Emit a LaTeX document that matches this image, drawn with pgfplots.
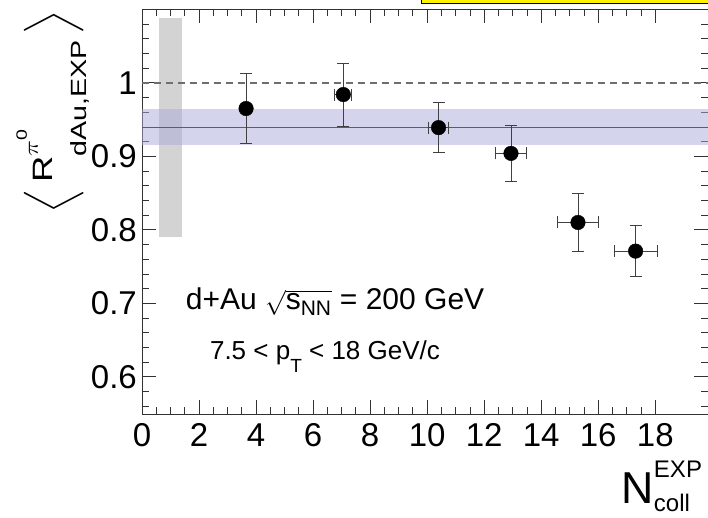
\documentclass[border=0pt]{standalone}
\usepackage{fontspec}
\setmainfont{Liberation Sans}
\usepackage{amsmath}
\usepackage{graphicx}
\usepackage{pgfplots}
\pgfplotsset{compat=1.18}
\usetikzlibrary{calc}
\definecolor{bandblue}{RGB}{170,170,220}
\definecolor{sysgray}{RGB}{211,211,211}
\definecolor{fitblue}{RGB}{80,80,200}
\definecolor{framegray}{RGB}{50,50,50}
\definecolor{refgray}{RGB}{110,110,110}

% N_coll, <R_dAu>, stat err (x and y)
\pgfplotstableread{
x      y      ex    ey
3.65   0.965  0.0   0.048
7.06   0.984  0.30  0.043
10.40  0.939  0.34  0.034
12.94  0.904  0.53  0.038
15.29  0.810  0.73  0.040
17.31  0.771  0.76  0.035
}\rdau

\begin{document}
\begin{tikzpicture}
\begin{axis}[
  name=ax,
  scale only axis,
  width=566pt, height=405pt,
  xmin=0, xmax=19.85,
  ymin=0.549, ymax=1.1,
  xtick={0,2,...,18},
  minor x tick num=3,
  ytick={0.6,0.7,0.8,0.9,1},
  minor ytick={0.56,0.58,0.62,0.64,0.66,0.68,0.72,0.74,0.76,0.78,0.82,0.84,0.86,0.88,0.92,0.94,0.96,0.98,1.02,1.04,1.06,1.08},
  tick align=inside,
  major tick length=14pt,
  minor tick length=7pt,
  tick style={framegray, line width=0.8pt},
  axis line style={framegray, line width=0.8pt},
  /pgf/number format/assume math mode=true,
  tick label style={font=\fontsize{33}{36}\selectfont, inner sep=0pt},
  yticklabel style={xshift=-5pt},
  xticklabel style={yshift=-9pt},
  clip mode=individual,
]

% systematic (global) box
\addplot[fill=sysgray, draw=none] coordinates {(0.61,0.790) (1.41,0.790) (1.41,1.088) (0.61,1.088)} -- cycle;
% fit band
\addplot[fill=bandblue, fill opacity=0.5, draw=none] coordinates {(0,0.915) (19.85,0.915) (19.85,0.964) (0,0.964)} -- cycle;
\addplot[fitblue, line width=0.7pt] coordinates {(0,0.939) (19.85,0.939)};
% unity
\addplot[refgray, line width=1.8pt, dash pattern=on 7pt off 5pt] coordinates {(0,1) (19.85,1)};

\addplot[only marks, mark=*, mark size=7.3pt, black,
  error bars/.cd,
    x dir=both, x explicit,
    y dir=both, y explicit,
    error mark=-,
    error bar style={black!75, line width=0.8pt},
    error mark options={rotate=90, black!75, mark size=6pt, line width=0.8pt}]
  table[x=x, y=y, x error=ex, y error=ey] {\rdau};

\node[anchor=base west, inner sep=0pt, font=\fontsize{30}{33}\selectfont]
  at (axis cs:1.53,0.692) {d+Au $\sqrt{\text{s}_{\text{NN}}}$ = 200 GeV};
\node[anchor=base west, inner sep=0pt, font=\fontsize{26}{29}\selectfont]
  at (axis cs:2.38,0.623) {7.5 < p\raisebox{-13pt}{\fontsize{19}{19}\selectfont T} < 18 GeV/c};
\end{axis}

% y title
\node[rotate=90, anchor=base, inner sep=0pt, font=\fontsize{28}{30}\selectfont]
  at ($(ax.south west)+(-89pt,302.8pt)$)
  {\scalebox{1.3}[1]{\raisebox{-7pt}{$\biggl\langle$}\,R\rlap{\raisebox{15pt}{\fontsize{22}{22}\selectfont$\pi$\raisebox{11pt}{\fontsize{15}{15}\selectfont 0}}}\raisebox{-34pt}{\fontsize{22}{22}\selectfont dAu,EXP}\,\raisebox{-7pt}{$\biggr\rangle$}}};
% x title
\node[anchor=base west, inner sep=0pt]
  at ($(ax.south west)+(479.5pt,-89pt)$)
  {\fontsize{44.7}{48}\selectfont N\rlap{\raisebox{26pt}{\fontsize{24}{24}\selectfont EXP}}\raisebox{-8pt}{\fontsize{24}{24}\selectfont coll}};
% legend box cut off at the top edge
\draw[fill=yellow, line width=1pt] ($(ax.south west)+(279.7pt,411pt)$) rectangle ($(ax.south west)+(620pt,450pt)$);

\pgfresetboundingbox
\path[use as bounding box] ($(ax.south west)+(-142pt,-102.7pt)$) rectangle ($(ax.south west)+(566pt,414.3pt)$);
\end{tikzpicture}
\end{document}
